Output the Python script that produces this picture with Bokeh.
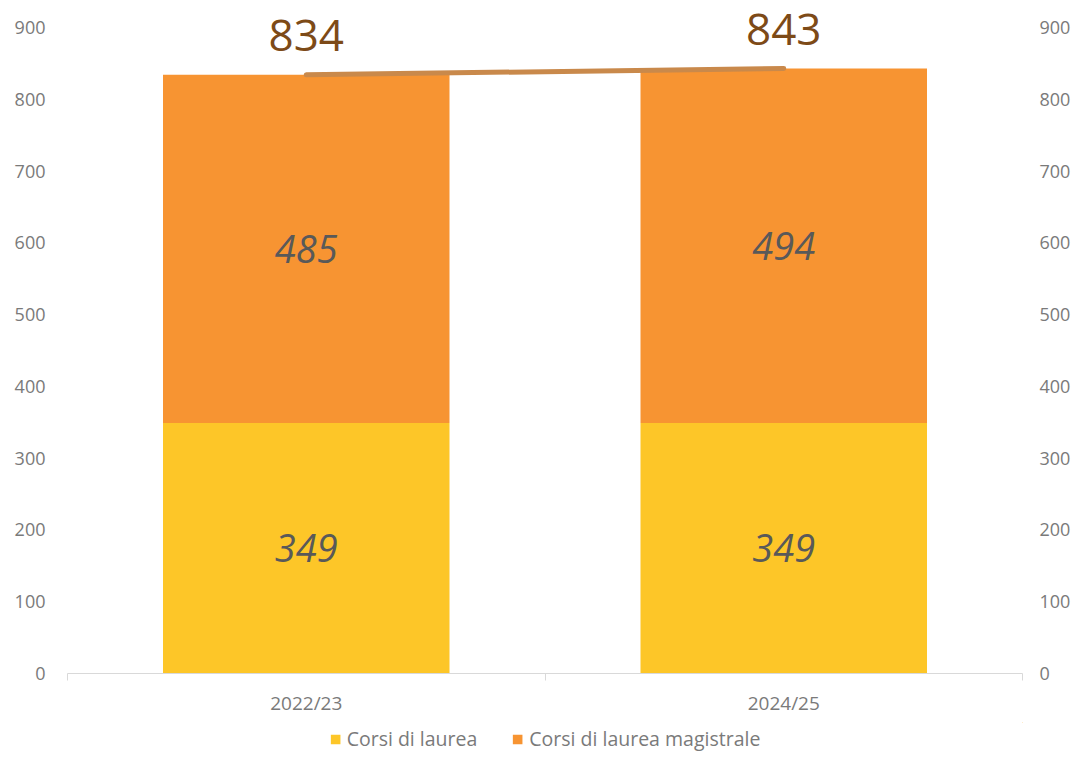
from bokeh.plotting import figure
from bokeh.layouts import column
from bokeh.models import (ColumnDataSource, Range1d, LinearAxis, FixedTicker,
                          Legend, LegendItem)
from bokeh.core.properties import value
from bokeh.embed import file_html
from bokeh.resources import INLINE

# ---- data ----
years = ["2022/23", "2024/25"]
series = ["Corsi di laurea", "Corsi di laurea magistrale"]
laurea = [349, 349]
magistrale = [485, 494]
totals = [834, 843]
y_ticks = [0, 100, 200, 300, 400, 500, 600, 700, 800, 900]

FONT = "Open Sans"
C_LAUREA = "#FDC628"
C_MAG = "#F79432"
C_LINE = "#C9894B"
C_TOTAL = "#7D4A17"
C_TICK = "#7A7A7A"

# layout geometry (pixels): frame bottom at 673, value 900 at 27
FRAME_BOTTOM = 673
TOP_TICK_PX = 27
y_top = y_ticks[-1] * FRAME_BOTTOM / (FRAME_BOTTOM - TOP_TICK_PX)

xpos = [i + 0.5 for i in range(len(years))]

src = ColumnDataSource(dict(
    x=xpos,
    laurea=laurea,
    magistrale=magistrale,
    totals=totals,
    lab_l=[str(v) for v in laurea],
    lab_m=[str(v) for v in magistrale],
    lab_t=[str(v) for v in totals],
    y_l=[v / 2 for v in laurea],
    y_m=[a + b / 2 for a, b in zip(laurea, magistrale)],
))

p = figure(width=1073, height=722, output_backend="svg", toolbar_location=None,
           x_range=Range1d(0, len(years)), y_range=Range1d(0, y_top),
           x_axis_location=None, y_axis_location=None,
           min_border_left=67, min_border_right=49, min_border_top=0,
           min_border_bottom=722 - FRAME_BOTTOM)
p.outline_line_color = None
p.grid.visible = False
p.background_fill_color = "white"
p.border_fill_color = "white"

rs = p.vbar_stack(["laurea", "magistrale"], x="x", width=0.6, source=src,
                  color=[C_LAUREA, C_MAG], line_color=None)

p.line("x", "totals", source=src, line_color=C_LINE, line_width=5,
       line_cap="round")

p.text("x", "y_l", text="lab_l", source=src, text_align="center",
       text_baseline="middle", text_font=value(FONT), text_font_size="38px",
       text_font_style="italic", text_color="#595959")
p.text("x", "y_m", text="lab_m", source=src, text_align="center",
       text_baseline="middle", text_font=value(FONT), text_font_size="38px",
       text_font_style="italic", text_color="#595959")
p.text("x", "totals", text="lab_t", source=src, text_align="center",
       text_baseline="middle", y_offset=-39, text_font=value(FONT),
       text_font_size="44px", text_color=C_TOTAL)

# x axis
xa = LinearAxis(ticker=FixedTicker(ticks=xpos, minor_ticks=list(range(len(years) + 1))),
                major_label_overrides={x: y for x, y in zip(xpos, years)})
xa.axis_line_color = "#D9D9D9"
xa.major_tick_line_color = None
xa.minor_tick_line_color = "#D9D9D9"
xa.minor_tick_in = 0
xa.minor_tick_out = 7
xa.major_tick_in = 0
xa.major_tick_out = 7
xa.major_label_standoff = 9
xa.major_label_text_font = FONT
xa.major_label_text_font_size = "19px"
xa.major_label_text_color = C_TICK
p.add_layout(xa, "below")

# y axes
for side, standoff in (("left", 22), ("right", 17)):
    ya = LinearAxis(ticker=FixedTicker(ticks=y_ticks))
    ya.axis_line_color = None
    ya.major_tick_line_color = None
    ya.minor_tick_line_color = None
    ya.major_tick_in = 0
    ya.major_tick_out = 0
    ya.major_label_standoff = standoff
    ya.major_label_text_font = FONT
    ya.major_label_text_font_size = "18px"
    ya.major_label_text_color = C_TICK
    p.add_layout(ya, side)

# legend in its own strip below the chart (its bars lie far outside its view)
lg = figure(width=1073, height=30, output_backend="svg", toolbar_location=None,
            x_range=Range1d(-20, -19), y_range=Range1d(-5000, -4999),
            x_axis_location=None, y_axis_location=None,
            min_border_left=67, min_border_right=49, min_border_top=0,
            min_border_bottom=0)
lg.outline_line_color = None
lg.grid.visible = False
lg.border_fill_color = "white"
lg.background_fill_color = "white"
lrs = lg.vbar_stack(["laurea", "magistrale"], x="x", width=0.6, source=src,
                    color=[C_LAUREA, C_MAG], line_color=None)

legend = Legend(items=[LegendItem(label=series[0], renderers=[lrs[0]]),
                       LegendItem(label=series[1], renderers=[lrs[1]])],
                orientation="horizontal", location="bottom_center")
legend.border_line_color = None
legend.background_fill_alpha = 0
legend.padding = 0
legend.margin = 0
legend.spacing = 34
legend.glyph_width = 12
legend.glyph_height = 12
legend.label_standoff = 6
legend.label_text_font = FONT
legend.label_text_font_size = "19.5px"
legend.label_text_color = C_TICK
legend.label_height = 18
lg.add_layout(legend, "center")

layout = column(p, lg, spacing=0)
open("out.html", "w").write(file_html(layout, INLINE))
